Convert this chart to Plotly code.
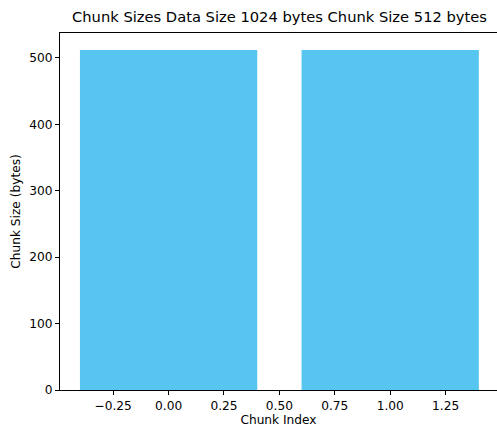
import plotly.graph_objects as go

chunk_index = [0, 1]
chunk_sizes = [512, 512]
x_tick_vals = [-0.25, 0.0, 0.25, 0.5, 0.75, 1.0, 1.25]
x_tick_text = ["\u22120.25", "0.00", "0.25", "0.50", "0.75", "1.00", "1.25"]
y_tick_vals = [0, 100, 200, 300, 400, 500]

W, H = 497, 429
L, R, T, B = 60, 0, 33, 39

fig = go.Figure(go.Bar(x=chunk_index, y=chunk_sizes, width=0.8,
                       marker=dict(color="#56c5f0", line=dict(width=0))))

font = dict(family="DejaVu Sans", size=12.2, color="#000000")
fig.update_layout(
    width=W, height=H,
    margin=dict(l=L, r=R, t=T, b=B),
    paper_bgcolor="white", plot_bgcolor="white",
    font=font,
    showlegend=False,
    title=dict(text="Chunk Sizes Data Size 1024 bytes Chunk Size 512 bytes",
               x=279.5 / W, xref="container", xanchor="center",
               y=1 - 17 / H, yref="container", yanchor="middle",
               font=dict(family="DejaVu Sans", size=14.7, color="#000000")),
)
fig.update_xaxes(range=[-0.49, 1.482], tickvals=x_tick_vals, ticktext=x_tick_text,
                 showgrid=False, zeroline=False, showline=True, mirror=True,
                 linecolor="#000000", linewidth=1, ticks="outside", ticklen=4,
                 tickwidth=1, tickcolor="#000000",
                 title=dict(text="Chunk Index", standoff=0, font=font))
fig.update_yaxes(range=[0, 537.6], tickvals=y_tick_vals,
                 showgrid=False, zeroline=False, showline=True, mirror=False,
                 linecolor="#000000", linewidth=1, ticks="outside", ticklen=4,
                 tickwidth=1, tickcolor="#000000",
                 title=dict(text="Chunk Size (bytes)", standoff=6, font=font))

fig.write_html("out.html")
